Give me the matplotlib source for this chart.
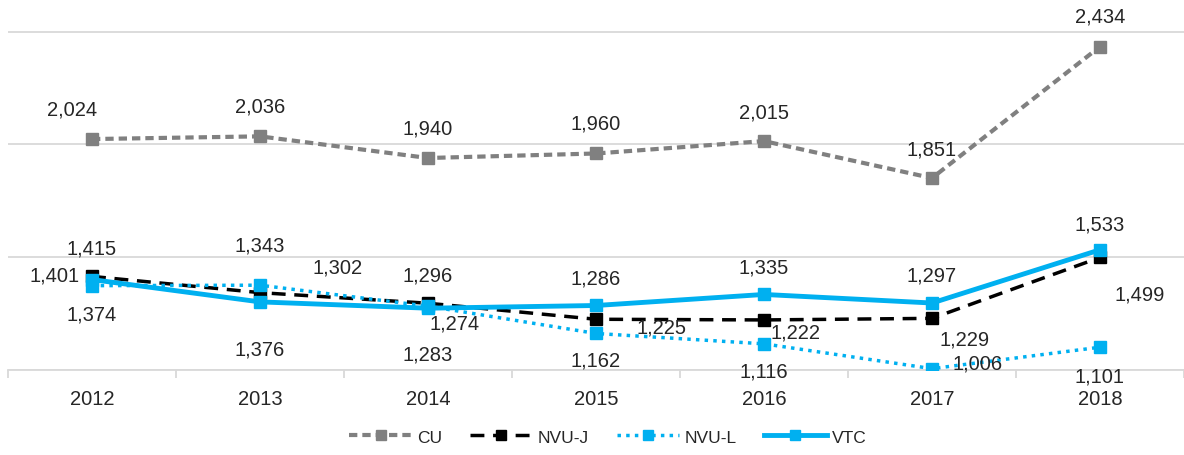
import matplotlib.pyplot as plt
import numpy as np

plt.rcParams['font.family'] = ['Liberation Sans', 'DejaVu Sans']

years = ['2012', '2013', '2014', '2015', '2016', '2017', '2018']
cu = [2024, 2036, 1940, 1960, 2015, 1851, 2434]
nvu_j = [1415, 1343, 1296, 1225, 1222, 1229, 1499]
nvu_l = [1374, 1376, 1283, 1162, 1116, 1006, 1101]
vtc = [1401, 1302, 1274, 1286, 1335, 1297, 1533]

# label offsets in pixels (dx, dy)
off_cu = [(-20, 30), (0, 30), (0, 30), (0, 30), (0, 29), (0, 29), (0, 31)]
off_j = [(0, 28), (0, 48), (0, 28), (65, -8), (32, -12), (33, -21), (40, -37)]
off_l = [(0, -28), (0, -64), (0, -48), (0, -27), (0, -27), (46, 6), (0, -29)]
off_v = [(-37, 5), (78, 35), (27, -15), (0, 27), (0, 27), (0, 28), (0, 26)]

blue = '#00B0F0'
x = np.arange(len(years))

fig = plt.figure(figsize=(11.84, 4.56), dpi=100)
ax = fig.add_axes([8 / 1184, 85 / 456, 1 - 8 / 1184, 1 - 85 / 456])

ax.plot(x, cu, color='#808080', ls=(0, (2, 1.2)), lw=3, marker='s', ms=9, label='CU', zorder=3)
ax.plot(x, nvu_j, color='black', ls=(0, (4, 2.5)), lw=2.5, marker='s', ms=9, label='NVU-J', zorder=3)
ax.plot(x, nvu_l, color=blue, ls=(0, (1, 1.5)), lw=2.5, marker='s', ms=9, label='NVU-L', zorder=3)
ax.plot(x, vtc, color=blue, lw=3.5, marker='s', ms=9, label='VTC', zorder=4)

for vals, offs in [(cu, off_cu), (nvu_j, off_j), (nvu_l, off_l), (vtc, off_v)]:
    for i, v in enumerate(vals):
        ax.annotate(f'{v:,}', (x[i], v), xytext=offs[i], textcoords='offset pixels',
                    ha='center', va='center', fontsize=14.5, color='#262626')

ax.set_xlim(-0.5, 6.44)
ax.set_ylim(1000, 2645)
ax.set_yticks([1000, 1500, 2000, 2500])
ax.yaxis.grid(True, color='#d9d9d9', lw=1.3)
ax.set_axisbelow(True)
ax.tick_params(axis='y', left=False, labelleft=False)
ax.set_xticks(x)
ax.set_xticklabels(years, fontsize=14.5, color='#262626')
ax.set_xticks(np.arange(-0.5, 6.6, 1), minor=True)
ax.tick_params(axis='x', which='major', length=0, pad=14)
ax.tick_params(axis='x', which='minor', length=6, color='#d9d9d9', width=1.3)
for s in ['top', 'right', 'left']:
    ax.spines[s].set_visible(False)
ax.spines['bottom'].set_color('#d9d9d9')
ax.spines['bottom'].set_linewidth(1.3)

fig.legend(loc='center', bbox_to_anchor=(608 / 1184, 1 - 438 / 456), ncol=4, frameon=False,
           fontsize=12.5, handlelength=3.6, columnspacing=1.6, handletextpad=0.3,
           labelcolor='#262626', markerscale=0.85)

fig.savefig('out.png', dpi=100)
